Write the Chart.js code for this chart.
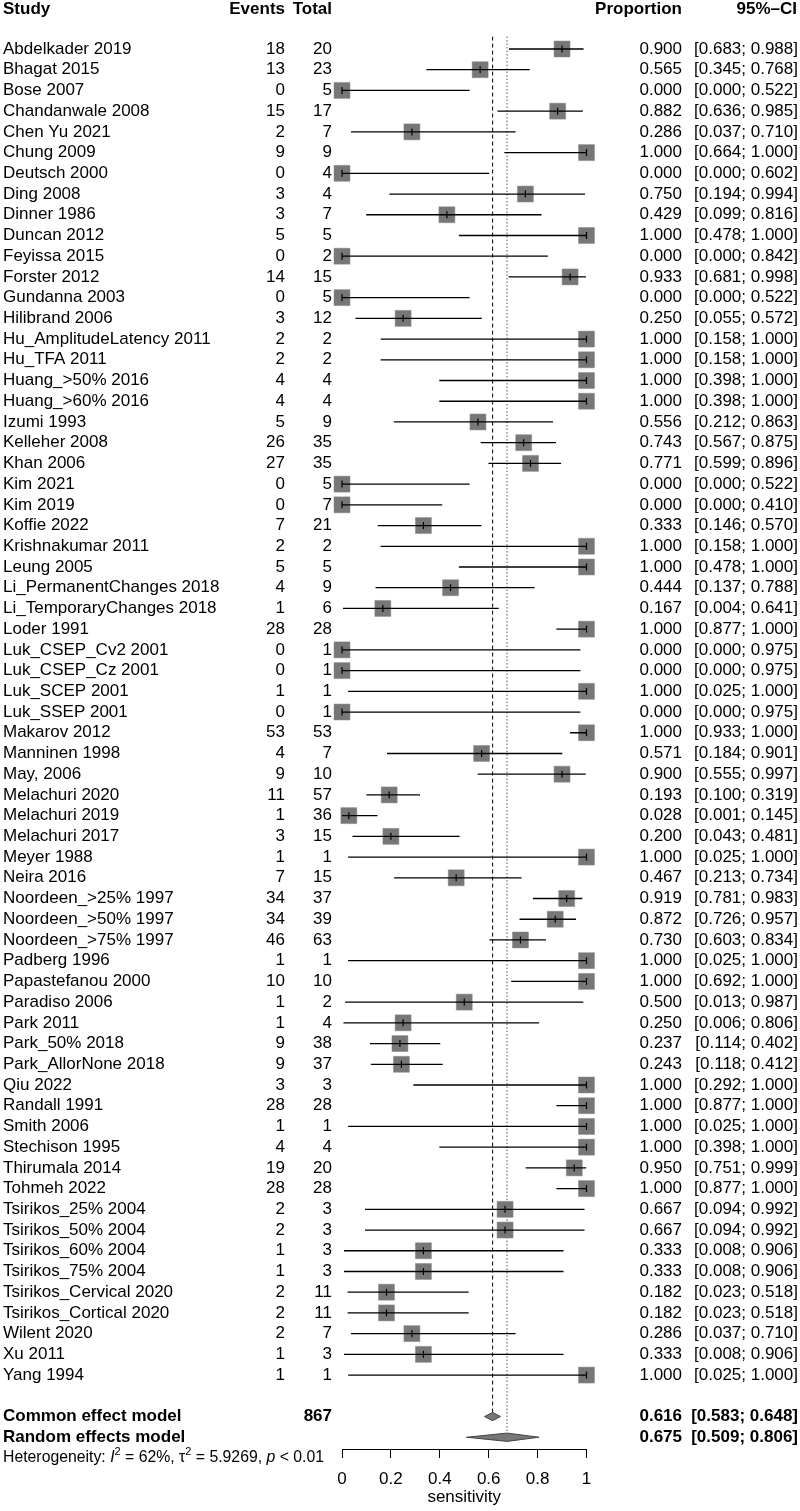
<!DOCTYPE html>
<html>
<head>
<meta charset="utf-8">
<script src="https://cdn.jsdelivr.net/npm/chart.js@4"></script>
<style>
  body { margin: 0; background: #fff; }
  canvas { display: block; }
</style>
</head>
<body>
<canvas id="forest" width="800" height="1511"></canvas>
<script>
// study data
const studies = [
  'Abdelkader 2019', 'Bhagat 2015', 'Bose 2007', 'Chandanwale 2008', 'Chen Yu 2021',
  'Chung 2009', 'Deutsch 2000', 'Ding 2008', 'Dinner 1986', 'Duncan 2012',
  'Feyissa 2015', 'Forster 2012', 'Gundanna 2003', 'Hilibrand 2006', 'Hu_AmplitudeLatency 2011',
  'Hu_TFA 2011', 'Huang_>50% 2016', 'Huang_>60% 2016', 'Izumi 1993', 'Kelleher 2008',
  'Khan 2006', 'Kim 2021', 'Kim 2019', 'Koffie 2022', 'Krishnakumar 2011',
  'Leung 2005', 'Li_PermanentChanges 2018', 'Li_TemporaryChanges 2018', 'Loder 1991', 'Luk_CSEP_Cv2 2001',
  'Luk_CSEP_Cz 2001', 'Luk_SCEP 2001', 'Luk_SSEP 2001', 'Makarov 2012', 'Manninen 1998',
  'May, 2006', 'Melachuri 2020', 'Melachuri 2019', 'Melachuri 2017', 'Meyer 1988',
  'Neira 2016', 'Noordeen_>25% 1997', 'Noordeen_>50% 1997', 'Noordeen_>75% 1997', 'Padberg 1996',
  'Papastefanou 2000', 'Paradiso 2006', 'Park 2011', 'Park_50% 2018', 'Park_AllorNone 2018',
  'Qiu 2022', 'Randall 1991', 'Smith 2006', 'Stechison 1995', 'Thirumala 2014',
  'Tohmeh 2022', 'Tsirikos_25% 2004', 'Tsirikos_50% 2004', 'Tsirikos_60% 2004', 'Tsirikos_75% 2004',
  'Tsirikos_Cervical 2020', 'Tsirikos_Cortical 2020', 'Wilent 2020', 'Xu 2011', 'Yang 1994'
];
const events = [18, 13, 0, 15, 2, 9, 0, 3, 3, 5, 0, 14, 0, 3, 2, 2, 4, 4, 5, 26, 27, 0, 0, 7, 2,
  5, 4, 1, 28, 0, 0, 1, 0, 53, 4, 9, 11, 1, 3, 1, 7, 34, 34, 46, 1, 10, 1, 1, 9, 9,
  3, 28, 1, 4, 19, 28, 2, 2, 1, 1, 2, 2, 2, 1, 1];
const totals = [20, 23, 5, 17, 7, 9, 4, 4, 7, 5, 2, 15, 5, 12, 2, 2, 4, 4, 9, 35, 35, 5, 7, 21, 2,
  5, 9, 6, 28, 1, 1, 1, 1, 53, 7, 10, 57, 36, 15, 1, 15, 37, 39, 63, 1, 10, 2, 4, 38, 37,
  3, 28, 1, 4, 20, 28, 3, 3, 3, 3, 11, 11, 7, 3, 1];
const props = [0.900, 0.565, 0.000, 0.882, 0.286, 1.000, 0.000, 0.750, 0.429, 1.000,
  0.000, 0.933, 0.000, 0.250, 1.000, 1.000, 1.000, 1.000, 0.556, 0.743,
  0.771, 0.000, 0.000, 0.333, 1.000, 1.000, 0.444, 0.167, 1.000, 0.000,
  0.000, 1.000, 0.000, 1.000, 0.571, 0.900, 0.193, 0.028, 0.200, 1.000,
  0.467, 0.919, 0.872, 0.730, 1.000, 1.000, 0.500, 0.250, 0.237, 0.243,
  1.000, 1.000, 1.000, 1.000, 0.950, 1.000, 0.667, 0.667, 0.333, 0.333,
  0.182, 0.182, 0.286, 0.333, 1.000];
const lowers = [0.683, 0.345, 0.000, 0.636, 0.037, 0.664, 0.000, 0.194, 0.099, 0.478,
  0.000, 0.681, 0.000, 0.055, 0.158, 0.158, 0.398, 0.398, 0.212, 0.567,
  0.599, 0.000, 0.000, 0.146, 0.158, 0.478, 0.137, 0.004, 0.877, 0.000,
  0.000, 0.025, 0.000, 0.933, 0.184, 0.555, 0.100, 0.001, 0.043, 0.025,
  0.213, 0.781, 0.726, 0.603, 0.025, 0.692, 0.013, 0.006, 0.114, 0.118,
  0.292, 0.877, 0.025, 0.398, 0.751, 0.877, 0.094, 0.094, 0.008, 0.008,
  0.023, 0.023, 0.037, 0.008, 0.025];
const uppers = [0.988, 0.768, 0.522, 0.985, 0.710, 1.000, 0.602, 0.994, 0.816, 1.000,
  0.842, 0.998, 0.522, 0.572, 1.000, 1.000, 1.000, 1.000, 0.863, 0.875,
  0.896, 0.522, 0.410, 0.570, 1.000, 1.000, 0.788, 0.641, 1.000, 0.975,
  0.975, 1.000, 0.975, 1.000, 0.901, 0.997, 0.319, 0.145, 0.481, 1.000,
  0.734, 0.983, 0.957, 0.834, 1.000, 1.000, 0.987, 0.806, 0.402, 0.412,
  1.000, 1.000, 1.000, 1.000, 0.999, 1.000, 0.992, 0.992, 0.906, 0.906,
  0.518, 0.518, 0.710, 0.906, 1.000];
const common = { est: 0.616, lo: 0.583, hi: 0.648 };
const random = { est: 0.675, lo: 0.509, hi: 0.806 };
const xTicks = [0, 0.2, 0.4, 0.6, 0.8, 1];
const hetText = { i2: '62%', tau2: '5.9269', p: '< 0.01' };

const FONT = '"Liberation Sans", Arial, Helvetica, sans-serif';
const n = studies.length;
const rowHeader = -1.9;
const rowCommon = n + 1;
const rowRandom = n + 2;
const rowHet = n + 3;
const dh = 0.2; // diamond half height, in rows

const squares = props.map((p, i) => ({ x: p, y: i }));
const ciLines = [];
lowers.forEach((lo, i) => {
  ciLines.push({ x: lo, y: i }, { x: uppers[i], y: i }, { x: NaN, y: NaN });
});
const diamond = (m, r) => [
  { x: m.lo, y: r }, { x: m.est, y: r - dh }, { x: m.hi, y: r }, { x: m.est, y: r + dh }, { x: m.lo, y: r }
];

const textPlugin = {
  id: 'forestText',
  afterDraw(chart) {
    const ctx = chart.ctx;
    const y = chart.scales.y;
    ctx.save();
    ctx.fillStyle = '#000';
    ctx.textBaseline = 'middle';
    const put = (txt, x, r, align, bold) => {
      ctx.font = (bold ? 'bold ' : '') + '17px ' + FONT;
      ctx.textAlign = align;
      ctx.fillText(txt, x, y.getPixelForValue(r));
    };
    // header
    put('Study', 3, rowHeader, 'left', true);
    put('Events', 285, rowHeader, 'right', true);
    put('Total', 332, rowHeader, 'right', true);
    put('Proportion', 682, rowHeader, 'right', true);
    put('95%\u2013CI', 797, rowHeader, 'right', true);
    studies.forEach((s, i) => {
      put(s, 3, i, 'left', false);
      put(String(events[i]), 285, i, 'right', false);
      put(String(totals[i]), 332, i, 'right', false);
      put(props[i].toFixed(3), 682, i, 'right', false);
      put('[' + lowers[i].toFixed(3) + '; ' + uppers[i].toFixed(3) + ']', 798, i, 'right', false);
    });
    const total = totals.reduce((a, b) => a + b, 0);
    put('Common effect model', 3, rowCommon, 'left', true);
    put(String(total), 332, rowCommon, 'right', true);
    put(common.est.toFixed(3), 682, rowCommon, 'right', true);
    put('[' + common.lo.toFixed(3) + '; ' + common.hi.toFixed(3) + ']', 798, rowCommon, 'right', true);
    put('Random effects model', 3, rowRandom, 'left', true);
    put(random.est.toFixed(3), 682, rowRandom, 'right', true);
    put('[' + random.lo.toFixed(3) + '; ' + random.hi.toFixed(3) + ']', 798, rowRandom, 'right', true);

    // heterogeneity line with italics and superscripts
    const hy = y.getPixelForValue(rowHet);
    const parts = [
      ['Heterogeneity: ', ''], ['I', 'italic '], ['2', 'sup'], [' = ' + hetText.i2 + ', ', ''],
      ['\u03c4', ''], ['2', 'sup'], [' = ' + hetText.tau2 + ', ', ''], ['p', 'italic '], [' ' + hetText.p, '']
    ];
    let hx = 3;
    ctx.textAlign = 'left';
    parts.forEach(([t, st]) => {
      if (st === 'sup') {
        ctx.font = '11px ' + FONT;
        ctx.fillText(t, hx, hy - 6);
      } else {
        ctx.font = st + '15.8px ' + FONT;
        ctx.fillText(t, hx, hy);
      }
      hx += ctx.measureText(t).width;
    });
    ctx.restore();
  }
};

new Chart(document.getElementById('forest'), {
  type: 'line',
  data: {
    datasets: [
      {
        label: 'estimate tick',
        data: squares,
        showLine: false,
        pointStyle: 'line',
        rotation: 90,
        pointRadius: 3.5,
        pointBorderColor: '#000',
        pointBorderWidth: 1.2,
        clip: false
      },
      {
        label: 'CI',
        data: ciLines,
        borderColor: '#000',
        borderWidth: 1.3,
        pointRadius: 0,
        spanGaps: false,
        clip: false
      },
      {
        label: 'studies',
        data: squares,
        showLine: false,
        pointStyle: 'rect',
        pointRadius: 11.3,
        pointBackgroundColor: '#777',
        pointBorderColor: '#888',
        pointBorderWidth: 0.5,
        clip: false
      },
      {
        label: 'common',
        data: diamond(common, rowCommon),
        borderColor: '#444',
        borderWidth: 1,
        backgroundColor: '#777',
        fill: 'shape',
        pointRadius: 0,
        tension: 0
      },
      {
        label: 'random',
        data: diamond(random, rowRandom),
        borderColor: '#444',
        borderWidth: 1,
        backgroundColor: '#777',
        fill: 'shape',
        pointRadius: 0,
        tension: 0
      },
      {
        label: 'common line',
        data: [{ x: common.est, y: -0.6 }, { x: common.est, y: rowCommon - dh }],
        borderColor: '#000',
        borderWidth: 1,
        borderDash: [4, 3],
        pointRadius: 0
      },
      {
        label: 'random line',
        data: [{ x: random.est, y: -0.6 }, { x: random.est, y: rowRandom - dh }],
        borderColor: '#555',
        borderWidth: 1,
        borderDash: [1.5, 2],
        pointRadius: 0
      }
    ]
  },
  options: {
    responsive: false,
    animation: false,
    events: [],
    layout: { autoPadding: false, padding: { left: 342, right: 213.5, top: 0, bottom: 0 } },
    plugins: { legend: { display: false }, tooltip: { enabled: false } },
    scales: {
      x: {
        type: 'linear',
        position: 'bottom',
        min: 0,
        max: 1,
        afterBuildTicks: s => { s.ticks = xTicks.map(v => ({ value: v })); },
        afterFit: s => { s.height = 62; },
        border: { display: true, color: '#000', width: 1 },
        grid: { drawOnChartArea: false, drawTicks: true, tickLength: 9, color: '#000', lineWidth: 1 },
        ticks: {
          color: '#000',
          padding: 11,
          maxRotation: 0,
          autoSkip: false,
          font: { family: FONT, size: 17 },
          callback: v => (v === 0 || v === 1) ? String(v) : v.toFixed(1)
        },
        title: {
          display: true,
          text: 'sensitivity',
          color: '#000',
          padding: { top: 0, bottom: 3 },
          font: { family: FONT, size: 17 }
        }
      },
      y: {
        type: 'linear',
        display: false,
        reverse: true,
        min: -49 / 20.72,
        max: 1400 / 20.72
      }
    }
  },
  plugins: [textPlugin]
});
</script>
</body>
</html>
